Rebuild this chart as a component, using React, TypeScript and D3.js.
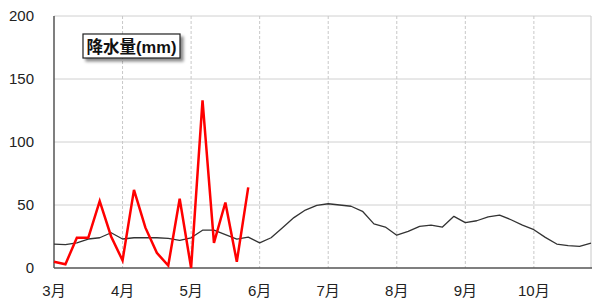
import { useEffect, useRef } from 'react';
import * as d3 from 'd3';

// pentad (5-day) index from 1 March; 6 per month
const months = ['3月', '4月', '5月', '6月', '7月', '8月', '9月', '10月'];
const yTicks = [0, 50, 100, 150, 200];

// this year's precipitation (mm), red
const observed = [5, 3, 24, 24, 53, 25, 6, 62, 32, 12, 2, 55, 0, 133, 20, 52, 5, 64];

// normal precipitation (mm), black
const normal = [
  19, 18.5, 20, 23, 24, 28, 23, 24, 24, 24, 23.5, 22,
  24, 30, 30, 26.5, 23, 24.5, 20, 24, 32, 40, 46, 49.7,
  51, 50, 49, 45, 35, 32.5, 26, 29, 33, 34, 32.5, 41,
  36, 37.5, 40.5, 42, 38.3, 34, 30.4, 24.3, 19, 17.7, 17.2, 19.8,
];

export default function App() {
  const ref = useRef<SVGSVGElement | null>(null);

  useEffect(() => {
    const svg = d3.select(ref.current);
    svg.selectAll('*').remove();

    const W = 598, H = 302;
    const left = 54, right = 591, top = 16, bottom = 268;
    const font = '"Liberation Sans", Arial, "Noto Sans CJK JP", sans-serif';

    const x = d3.scaleLinear().domain([0, normal.length - 1]).range([left, right]);
    const y = d3.scaleLinear().domain([0, 200]).range([bottom, top]);

    svg.attr('width', W).attr('height', H);

    const defs = svg.append('defs');
    const f = defs.append('filter').attr('id', 'shadow')
      .attr('x', '-20%').attr('y', '-40%').attr('width', '150%').attr('height', '200%');
    f.append('feDropShadow')
      .attr('dx', 3).attr('dy', 3).attr('stdDeviation', 1.5)
      .attr('flood-color', '#000').attr('flood-opacity', 0.45);

    svg.append('rect').attr('width', W).attr('height', H).attr('fill', '#fff');

    // horizontal grid
    svg.append('g').selectAll('line')
      .data(yTicks.filter(d => d > 0))
      .join('line')
      .attr('x1', left).attr('x2', right)
      .attr('y1', d => y(d)).attr('y2', d => y(d))
      .attr('stroke', '#d0d0d0').attr('stroke-width', 1);

    // monthly vertical dashed grid
    svg.append('g').selectAll('line')
      .data(months.slice(1))
      .join('line')
      .attr('x1', (_, i) => x((i + 1) * 6)).attr('x2', (_, i) => x((i + 1) * 6))
      .attr('y1', top).attr('y2', bottom)
      .attr('stroke', '#c8c8c8').attr('stroke-width', 1)
      .attr('stroke-dasharray', '3,2');

    // right border
    svg.append('line')
      .attr('x1', right).attr('x2', right).attr('y1', top).attr('y2', bottom)
      .attr('stroke', '#c8c8c8');

    // axes
    svg.append('line')
      .attr('x1', left).attr('x2', left).attr('y1', top).attr('y2', bottom)
      .attr('stroke', '#555').attr('stroke-width', 1.5);
    svg.append('line')
      .attr('x1', left).attr('x2', right + 1).attr('y1', bottom).attr('y2', bottom)
      .attr('stroke', '#555').attr('stroke-width', 1.5);

    svg.append('g').selectAll('text')
      .data(yTicks)
      .join('text')
      .attr('x', 34).attr('y', d => y(d) + 5)
      .attr('text-anchor', 'end')
      .attr('font-family', font).attr('font-size', 15)
      .attr('fill', '#222')
      .text(d => d);

    svg.append('g').selectAll('text')
      .data(months)
      .join('text')
      .attr('x', (_, i) => x(i * 6)).attr('y', 296)
      .attr('text-anchor', 'middle')
      .attr('font-family', font).attr('font-size', 15)
      .attr('fill', '#222')
      .text(d => d);

    const line = d3.line<number>()
      .x((_, i) => x(i))
      .y(d => y(d));

    svg.append('path')
      .datum(normal)
      .attr('fill', 'none')
      .attr('stroke', '#333')
      .attr('stroke-width', 1.3)
      .attr('stroke-linejoin', 'round')
      .attr('d', line);

    svg.append('path')
      .datum(observed)
      .attr('fill', 'none')
      .attr('stroke', '#ff0000')
      .attr('stroke-width', 2.5)
      .attr('stroke-linejoin', 'miter')
      .attr('d', line);

    // legend label box
    const lg = svg.append('g');
    lg.append('rect')
      .attr('x', 83).attr('y', 34).attr('width', 97).attr('height', 24)
      .attr('fill', '#fff').attr('stroke', '#222').attr('stroke-width', 1.2)
      .attr('filter', 'url(#shadow)');
    lg.append('text')
      .attr('x', 131.5).attr('y', 52.5)
      .attr('text-anchor', 'middle')
      .attr('font-family', font).attr('font-size', 16.5).attr('font-weight', 'bold')
      .attr('fill', '#111')
      .text('降水量(mm)');
  }, []);

  return <svg ref={ref} style={{ position: 'absolute', left: 0, top: 0 }} />;
}
